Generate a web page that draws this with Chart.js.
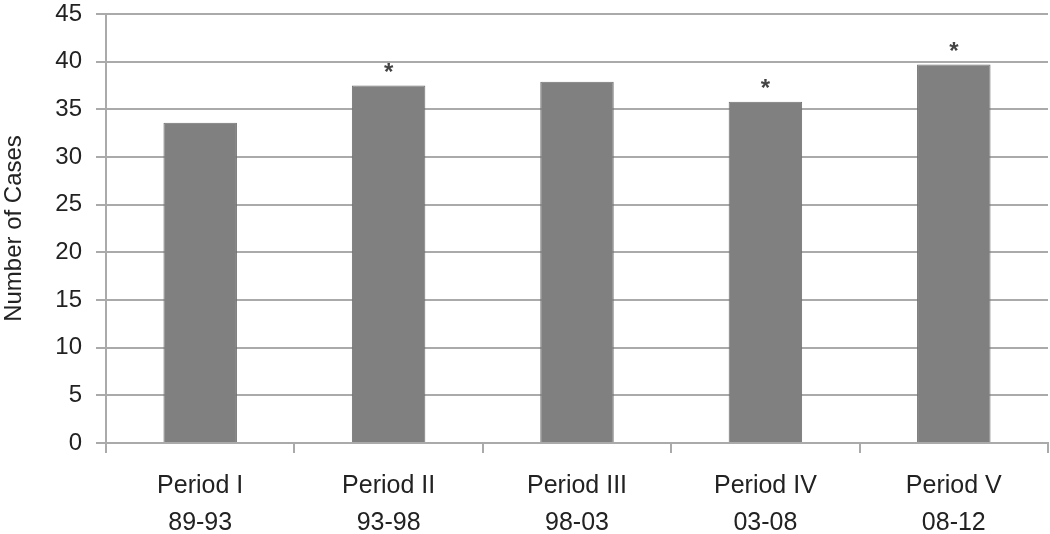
<!DOCTYPE html>
<html>
<head>
<meta charset="utf-8">
<script src="https://cdn.jsdelivr.net/npm/chart.js@4"></script>
<style>
  html, body { margin: 0; padding: 0; background: #fff; }
  #wrap { width: 1050px; height: 534px; position: relative; }
</style>
</head>
<body>
<div id="wrap"><canvas id="casesChart"></canvas></div>
<script>
const periodos = [["Period I", "89-93"], ["Period II", "93-98"], ["Period III", "98-03"], ["Period IV", "03-08"], ["Period V", "08-12"]];
const casos = [33.6, 37.5, 37.9, 35.8, 39.7];
const marcas = ["", "*", "", "*", "*"];
const ticksY = [0, 5, 10, 15, 20, 25, 30, 35, 40, 45];

const fuente = "'Liberation Sans', Arial, sans-serif";

// asteriscos encima de las barras
const asteriscos = {
    id: "asteriscos",
    afterDatasetsDraw(chart) {
        const ctx = chart.ctx;
        const meta = chart.getDatasetMeta(0);
        ctx.save();
        ctx.fillStyle = "#444";
        ctx.font = "bold 24px " + fuente;
        ctx.textAlign = "center";
        ctx.textBaseline = "bottom";
        meta.data.forEach((bar, i) => {
            if (marcas[i]) ctx.fillText(marcas[i], bar.x, bar.y);
        });
        ctx.restore();
    }
};

function dibujarGrafico() {
    const ctx = document.getElementById("casesChart").getContext("2d");
    new Chart(ctx, {
        type: "bar",
        data: {
            labels: periodos,
            datasets: [{
                label: "Number of Cases",
                data: casos,
                backgroundColor: "#808080",
                borderColor: "#707070",
                borderWidth: 1,
                categoryPercentage: 1,
                barPercentage: 0.39
            }]
        },
        plugins: [asteriscos],
        options: {
            responsive: true,
            maintainAspectRatio: false,
            animation: false,
            layout: { padding: { top: 14, right: 2, left: 0, bottom: 0 } },
            plugins: {
                legend: { display: false },
                tooltip: { enabled: false }
            },
            scales: {
                x: {
                    grid: {
                        drawOnChartArea: false,
                        offset: true,
                        tickLength: 10,
                        color: "#aaa",
                        lineWidth: 2
                    },
                    border: { color: "#aaa", width: 2 },
                    ticks: {
                        color: "#222",
                        padding: 14,
                        font: { family: fuente, size: 25, lineHeight: 1.5 },
                        maxRotation: 0
                    },
                    afterFit: scale => { scale.height = 91; }
                },
                y: {
                    min: 0,
                    max: 45,
                    afterBuildTicks: scale => { scale.ticks = ticksY.map(v => ({ value: v })); },
                    grid: { color: "#aaa", lineWidth: 2, tickLength: 10 },
                    border: { color: "#aaa", width: 2 },
                    ticks: {
                        color: "#222",
                        padding: 14,
                        font: { family: fuente, size: 24 }
                    },
                    title: {
                        display: true,
                        text: "Number of Cases",
                        color: "#222",
                        padding: { top: 0, bottom: 4 },
                        font: { family: fuente, size: 24 }
                    },
                    afterFit: scale => {
                        scale.width = 106;
                        scale.paddingTop = 0;
                        scale.paddingBottom = 0;
                    }
                }
            }
        }
    });
}

dibujarGrafico();
</script>
</body>
</html>
